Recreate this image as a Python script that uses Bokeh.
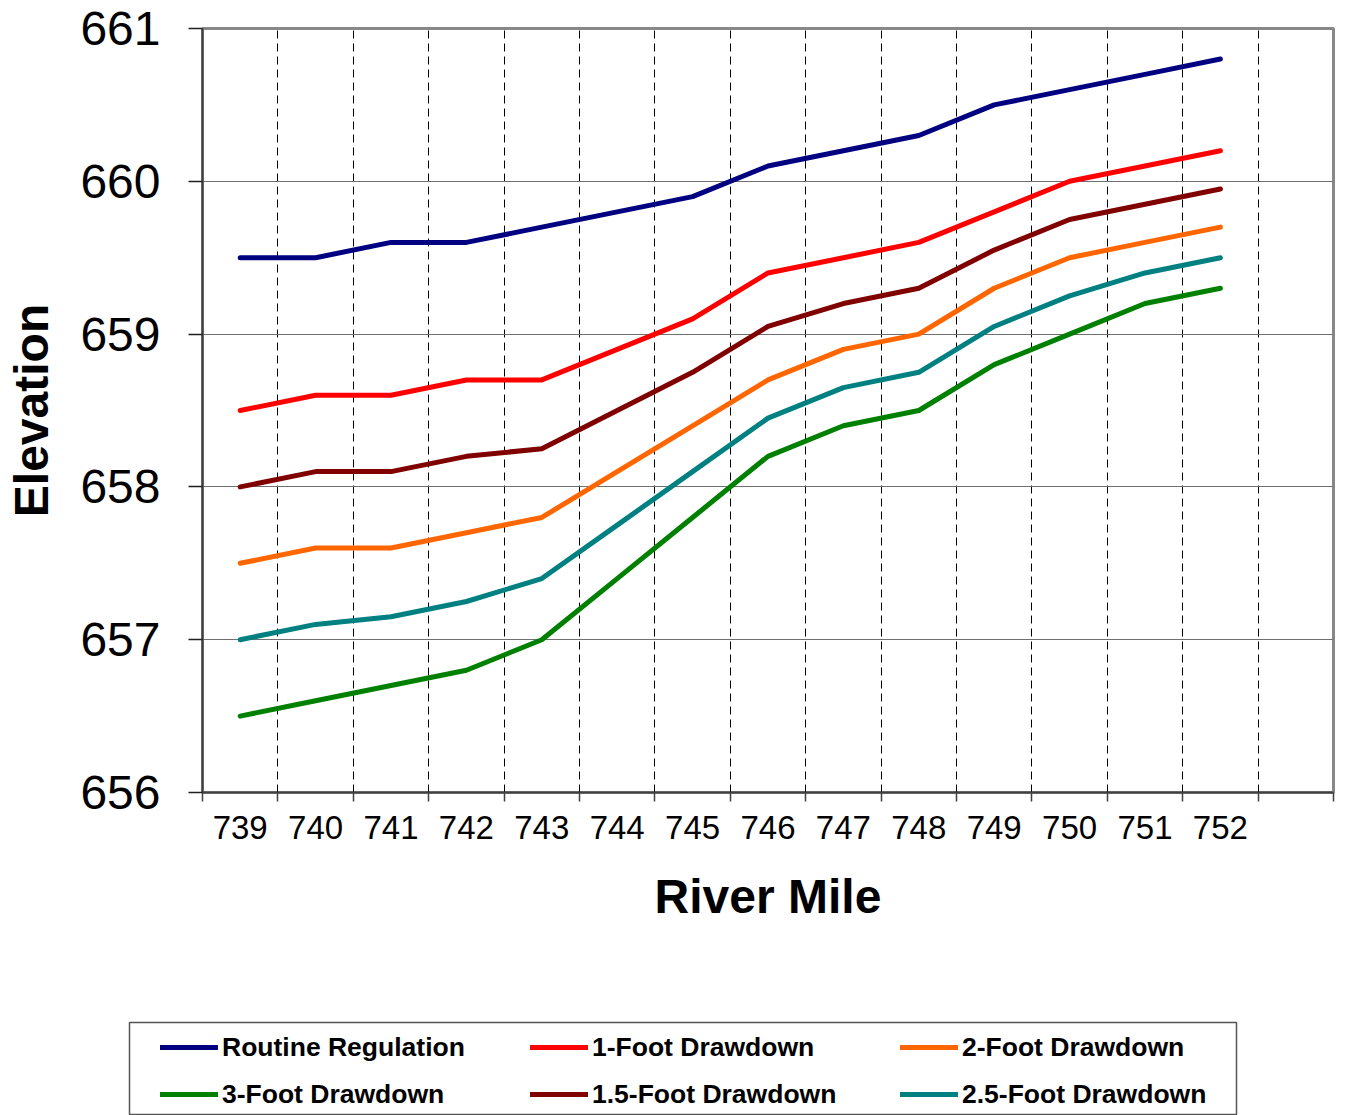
from bokeh.plotting import figure
from bokeh.models import FixedTicker, Legend, LegendItem, Range1d
from bokeh.layouts import column
from bokeh.embed import file_html
from bokeh.resources import INLINE

# River miles along the reach
miles = [739, 740, 741, 742, 743, 744, 745, 746, 747, 748, 749, 750, 751, 752]

# Water-surface elevation (ft) for each operating scenario
routine_regulation = [659.5, 659.5, 659.6, 659.6, 659.7, 659.8, 659.9, 660.1, 660.2, 660.3, 660.5, 660.6, 660.7, 660.8]
drawdown_1ft = [658.5, 658.6, 658.6, 658.7, 658.7, 658.9, 659.1, 659.4, 659.5, 659.6, 659.8, 660.0, 660.1, 660.2]
drawdown_1_5ft = [658.0, 658.1, 658.1, 658.2, 658.25, 658.5, 658.75, 659.05, 659.2, 659.3, 659.55, 659.75, 659.85, 659.95]
drawdown_2ft = [657.5, 657.6, 657.6, 657.7, 657.8, 658.1, 658.4, 658.7, 658.9, 659.0, 659.3, 659.5, 659.6, 659.7]
drawdown_2_5ft = [657.0, 657.1, 657.15, 657.25, 657.4, 657.75, 658.1, 658.45, 658.65, 658.75, 659.05, 659.25, 659.4, 659.5]
drawdown_3ft = [656.5, 656.6, 656.7, 656.8, 657.0, 657.4, 657.8, 658.2, 658.4, 658.5, 658.8, 659.0, 659.2, 659.3]

elevation_ticks = [656, 657, 658, 659, 660, 661]

# Legend order (row by row, three per row)
series = [
    ("Routine Regulation", routine_regulation, "#000080"),
    ("1-Foot Drawdown", drawdown_1ft, "#FF0000"),
    ("2-Foot Drawdown", drawdown_2ft, "#FF6600"),
    ("3-Foot Drawdown", drawdown_3ft, "#008000"),
    ("1.5-Foot Drawdown", drawdown_1_5ft, "#800000"),
    ("2.5-Foot Drawdown", drawdown_2_5ft, "#008080"),
]

FONT = "Liberation Sans"
LINE_W = 5

# one extra empty slot on the right of the mile axis
x_lo = miles[0] - 0.5
x_hi = miles[-1] + 1.5
slot_edges = [x_lo + i for i in range(int(x_hi - x_lo) + 1)]

W = 1347
CHART_H, LEGEND_H = 1000, 115

p = figure(
    width=W, height=CHART_H,
    x_range=Range1d(x_lo, x_hi),
    y_range=Range1d(elevation_ticks[0], elevation_ticks[-1]),
    output_backend="svg", toolbar_location=None,
    min_border_left=202, min_border_right=14,
    min_border_top=28, min_border_bottom=208,
    background_fill_color="white", border_fill_color="white",
)
p.frame_align = False
p.outline_line_color = "#888888"
p.outline_line_width = 3

# x axis: labels at mile centres, tick marks between slots
x_ticker = FixedTicker(ticks=miles, minor_ticks=slot_edges)
p.xaxis.ticker = x_ticker
p.xaxis.major_tick_in = 0
p.xaxis.major_tick_out = 0
p.xaxis.minor_tick_in = 0
p.xaxis.minor_tick_out = 9
p.xaxis.minor_tick_line_color = "#404040"
p.xaxis.minor_tick_line_width = 1.5
p.xaxis.axis_line_color = "#404040"
p.xaxis.axis_line_width = 2
p.xaxis.major_label_text_font = FONT
p.xaxis.major_label_text_font_size = "33px"
p.xaxis.major_label_text_color = "black"
p.xaxis.major_label_standoff = 14
p.xaxis.axis_label = "River Mile"
p.xaxis.axis_label_text_font = FONT
p.xaxis.axis_label_text_font_size = "48px"
p.xaxis.axis_label_text_font_style = "bold"
p.xaxis.axis_label_text_color = "black"
p.xaxis.axis_label_standoff = 28

# y axis
p.yaxis.ticker = FixedTicker(ticks=elevation_ticks, minor_ticks=[])
p.yaxis.major_tick_in = 0
p.yaxis.major_tick_out = 14
p.yaxis.major_tick_line_color = "#202020"
p.yaxis.major_tick_line_width = 1.5
p.yaxis.axis_line_color = "#404040"
p.yaxis.axis_line_width = 2
p.yaxis.major_label_text_font = FONT
p.yaxis.major_label_text_font_size = "48px"
p.yaxis.major_label_text_color = "black"
p.yaxis.major_label_standoff = 28
p.yaxis.axis_label = "Elevation"
p.yaxis.axis_label_text_font = FONT
p.yaxis.axis_label_text_font_size = "48px"
p.yaxis.axis_label_text_font_style = "bold"
p.yaxis.axis_label_text_color = "black"
p.yaxis.axis_label_standoff = 19

# grids: dashed verticals between slots, solid gray horizontals
p.xgrid.ticker = x_ticker
p.xgrid.grid_line_color = None
p.xgrid.minor_grid_line_color = "black"
p.xgrid.minor_grid_line_width = 1
p.xgrid.minor_grid_line_dash = "8 5"
p.ygrid.grid_line_color = "#707070"
p.ygrid.grid_line_width = 1

for name, values, color in series:
    p.line(miles, values, line_color=color, line_width=LINE_W,
           line_cap="round", line_join="round")

# framed legend panel under the chart; its frame is the legend box
BOX_L, BOX_R, BOX_T = 129, 1236, 22
leg = figure(
    width=W, height=LEGEND_H,
    x_range=Range1d(0, 1), y_range=Range1d(0, 1),
    output_backend="svg", toolbar_location=None,
    x_axis_location=None, y_axis_location=None,
    min_border_left=BOX_L, min_border_right=W - BOX_R,
    min_border_top=BOX_T, min_border_bottom=0,
    background_fill_color="white", border_fill_color="white",
)
leg.frame_align = False
leg.grid.visible = False
leg.outline_line_color = "#555555"
leg.outline_line_width = 1.5

# legend samples share the series styling (the series sit outside this panel's view)
items = []
for name, values, color in series:
    r = leg.line(miles, values, line_color=color, line_width=LINE_W, line_cap="round")
    items.append(LegendItem(label=name, renderers=[r]))

row_h, row_gap = 40, 7
legend_top = 27                       # below the panel's top edge
legend_h = 2 * row_h + row_gap
legend = Legend(
    items=items, orientation="horizontal", ncols=3,
    location=(160 - BOX_L, LEGEND_H - (legend_top + legend_h)),
    padding=0, margin=0, spacing=row_gap,
    border_line_color=None, background_fill_alpha=0,
    glyph_width=58, glyph_height=row_h, label_height=row_h, label_width=301,
    label_standoff=4,
    label_text_font=FONT, label_text_font_size="26.5px",
    label_text_font_style="bold", label_text_color="black",
)
leg.add_layout(legend)

layout = column(p, leg, spacing=0)

open("out.html", "w").write(file_html(layout, INLINE))
